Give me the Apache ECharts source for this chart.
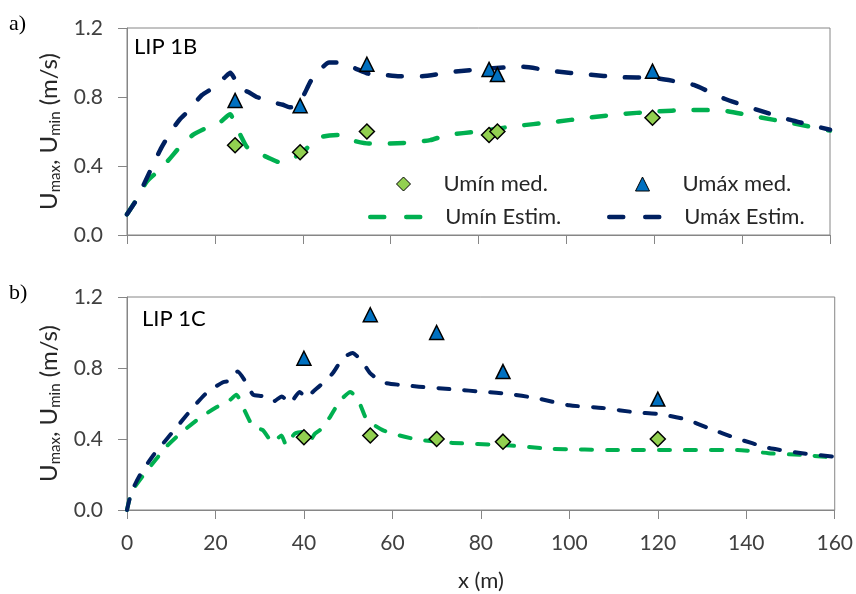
<!DOCTYPE html>
<html>
<head>
<meta charset="utf-8">
<script src="https://cdn.jsdelivr.net/npm/echarts@6/dist/echarts.min.js"></script>
<style>
html,body{margin:0;padding:0;background:#fff;}
#c{width:856px;height:594px;}
</style>
</head>
<body>
<div id="c"></div>
<script>
// ---- axis settings ----
const xMin = 0, xMax = 160, xStep = 20;
const yMin = 0, yMax = 1.2, yStep = 0.4;
const xTitle = 'x (m)';
const panelLabels = ['a)', 'b)'];
const panelNames = ['LIP 1B', 'LIP 1C'];
const seriesNames = ['Umín med.', 'Umáx med.', 'Umín Estim.', 'Umáx Estim.'];

// ---- panel a) LIP 1B ----
const aMedX   = [24.6, 39.4, 54.6, 82.4, 84.3, 119.6];
const aMinMed = [0.52, 0.48, 0.60, 0.58, 0.60, 0.68];
const aMaxMed = [0.78, 0.75, 0.99, 0.96, 0.93, 0.95];

const aMaxEstX = [0, 2.3, 4.5, 7.5, 10, 12, 14, 17, 20, 22.5, 23.5, 24.6, 25.5, 27.5, 29.5, 31, 33, 35.5, 37, 38.5, 40, 42, 44, 46, 48.5, 52, 55, 58, 62, 67, 74, 82, 90, 97, 105, 112, 120, 125, 129, 136, 143.5, 151, 160];
const aMaxEst  = [0.12, 0.21, 0.33, 0.49, 0.60, 0.67, 0.72, 0.81, 0.86, 0.92, 0.94, 0.90, 0.85, 0.83, 0.80, 0.79, 0.77, 0.755, 0.74, 0.745, 0.80, 0.90, 0.96, 1.0, 1.0, 0.965, 0.935, 0.93, 0.92, 0.92, 0.945, 0.965, 0.975, 0.95, 0.93, 0.915, 0.91, 0.89, 0.87, 0.79, 0.725, 0.667, 0.61];

const aMinEstX = [0, 2.3, 4.5, 7.5, 10, 12, 15, 18, 21, 23.5, 24.3, 26, 27.3, 29.5, 32, 35, 37, 40, 42, 44.5, 48, 51, 55, 58, 64, 69, 73, 80, 88, 97, 105, 112, 120, 128, 136, 143.5, 151, 160];
const aMinEst  = [0.12, 0.21, 0.31, 0.38, 0.45, 0.51, 0.58, 0.62, 0.65, 0.70, 0.66, 0.57, 0.51, 0.48, 0.45, 0.42, 0.435, 0.48, 0.53, 0.57, 0.58, 0.55, 0.53, 0.53, 0.535, 0.55, 0.58, 0.60, 0.63, 0.655, 0.68, 0.70, 0.715, 0.725, 0.72, 0.685, 0.65, 0.605];

// ---- panel b) LIP 1C ----
const bMedX   = [40, 55, 70, 85, 120];
const bMinMed = [0.41, 0.42, 0.40, 0.385, 0.40];
const bMaxMed = [0.855, 1.10, 1.0, 0.78, 0.625];

const bMaxEstX = [0, 1, 3, 6, 9, 12, 15, 18, 21.7, 23.6, 25, 27, 28.5, 30.8, 33, 35, 36.8, 39, 40.6, 42, 43.6, 46.5, 48.8, 51, 53.3, 55, 57.8, 61.6, 66, 73.6, 81, 86, 92.5, 100, 107.4, 115, 120.3, 126.4, 131.6, 137.7, 145, 152.6, 160];
const bMaxEst  = [0, 0.10, 0.20, 0.31, 0.40, 0.49, 0.58, 0.66, 0.72, 0.73, 0.78, 0.715, 0.65, 0.64, 0.61, 0.64, 0.60, 0.665, 0.63, 0.665, 0.70, 0.77, 0.855, 0.885, 0.83, 0.77, 0.72, 0.705, 0.695, 0.68, 0.665, 0.655, 0.63, 0.59, 0.575, 0.55, 0.54, 0.51, 0.46, 0.405, 0.35, 0.32, 0.30];

const bMinEstX = [0, 1, 3.5, 6.7, 9, 12, 16.5, 20.3, 23.3, 24.7, 26.2, 28.5, 30.7, 33, 34.9, 36, 37.9, 39.5, 41.3, 42.5, 43.6, 45.8, 48, 50.5, 52.6, 54.2, 57.8, 61.6, 66, 73.6, 85, 96, 111, 126, 138, 145, 152.6, 160];
const bMinEst  = [0, 0.10, 0.19, 0.29, 0.36, 0.43, 0.52, 0.58, 0.62, 0.65, 0.58, 0.47, 0.45, 0.38, 0.42, 0.365, 0.43, 0.44, 0.39, 0.43, 0.45, 0.52, 0.61, 0.665, 0.60, 0.51, 0.45, 0.42, 0.395, 0.378, 0.366, 0.345, 0.338, 0.338, 0.338, 0.32, 0.31, 0.295];

// ---- styling ----
const cNavy = '#002060', cGreen = '#00B050', cDiamond = '#92D050', cTri = '#0070C0';
const FONT = 'Lato';
const axisGray = '#868686';
const txt = '#404040';
const dark = '#262626';

function pairs(xs, ys) { return xs.map((x, i) => [x, ys[i]]); }

const yName = '{u|U}{s|max}{u|, U}{s|min}{u| (m/s)}';
const yNameStyle = {
  rich: {
    u: { fontFamily: FONT, fontSize: 24, color: dark, lineHeight: 28 },
    s: { fontFamily: FONT, fontSize: 15, color: dark, lineHeight: 14, verticalAlign: 'bottom' }
  }
};

function makeX(gi, showLabels) {
  return {
    type: 'value', gridIndex: gi, min: xMin, max: xMax, interval: xStep,
    axisLine: { show: true, lineStyle: { color: axisGray, width: 1 } },
    axisTick: { show: true, inside: false, length: 9, lineStyle: { color: axisGray } },
    axisLabel: { show: showLabels, margin: 23, fontFamily: FONT, fontSize: 21, color: txt },
    splitLine: { show: false },
    name: showLabels ? xTitle : '', nameLocation: 'middle', nameGap: 60,
    nameTextStyle: { fontFamily: FONT, fontSize: 22, color: dark }
  };
}
function makeY(gi) {
  return {
    type: 'value', gridIndex: gi, min: yMin, max: yMax, interval: yStep,
    axisLine: { show: true, lineStyle: { color: axisGray, width: 1 } },
    axisTick: { show: true, inside: false, length: 9, lineStyle: { color: axisGray } },
    axisLabel: { margin: 24, fontFamily: FONT, fontSize: 21, color: txt, formatter: v => v.toFixed(1) },
    splitLine: { show: false },
    name: yName, nameLocation: 'middle', nameGap: 63, nameRotate: 90,
    nameTextStyle: yNameStyle
  };
}

const lineA = { width: 4.5, type: [14, 20], cap: 'round', join: 'round' };
const lineB = { width: 4, type: [11, 15], cap: 'round', join: 'round' };

function lineSeries(name, data, color, gi, ls) {
  return {
    name, type: 'line', xAxisIndex: gi, yAxisIndex: gi, data, showSymbol: false, symbol: 'none',
    smooth: 0.2, lineStyle: Object.assign({ color }, ls), itemStyle: { color }, z: 2, silent: true
  };
}
function scatterSeries(name, data, symbol, size, fill, gi) {
  return {
    name, type: 'scatter', xAxisIndex: gi, yAxisIndex: gi, data, symbol, symbolSize: size,
    itemStyle: { color: fill, borderColor: '#000', borderWidth: 1.5, opacity: 1 }, z: 5, silent: true
  };
}

const legendText = { fontFamily: FONT, fontSize: 22, color: dark, lineHeight: 26 };
function leg(left, top, w, h, item, padLeft) {
  return {
    left, top, padding: 0, itemWidth: w, itemHeight: h, selectedMode: false,
    data: [item], textStyle: Object.assign({ padding: [0, 0, 0, padLeft] }, legendText)
  };
}
const hiddenSym = { color: 'rgba(0,0,0,0)', borderWidth: 0, borderColor: 'rgba(0,0,0,0)', opacity: 0 };

const chart = echarts.init(document.getElementById('c'), null, { renderer: 'canvas' });
chart.setOption({
  animation: false,
  backgroundColor: '#fff',
  grid: [
    { left: 127, top: 28, right: 26, height: 207, show: true, borderColor: axisGray, borderWidth: 1, containLabel: false },
    { left: 127, top: 297, right: 20, height: 213, show: true, borderColor: axisGray, borderWidth: 1, containLabel: false }
  ],
  xAxis: [makeX(0, false), makeX(1, true)],
  yAxis: [makeY(0), makeY(1)],
  legend: [
    leg(396, 171, 14, 14, { name: seriesNames[0], icon: 'diamond', itemStyle: { color: cDiamond, borderColor: '#000', borderWidth: 1 } }, 28),
    leg(635, 171, 14, 14, { name: seriesNames[1], icon: 'triangle', itemStyle: { color: cTri, borderColor: '#000', borderWidth: 1 } }, 28),
    leg(368, 204, 55, 14, { name: seriesNames[2], itemStyle: hiddenSym, lineStyle: { color: cGreen, width: 4.5, type: [14, 22], cap: 'round' } }, 15),
    leg(607, 204, 55, 14, { name: seriesNames[3], itemStyle: hiddenSym, lineStyle: { color: cNavy, width: 4.5, type: [14, 22], cap: 'round' } }, 15)
  ],
  graphic: [
    { type: 'text', left: 9, top: 13, style: { text: panelLabels[0], font: '22px "Liberation Serif"', fill: '#000' } },
    { type: 'text', left: 9, top: 282, style: { text: panelLabels[1], font: '22px "Liberation Serif"', fill: '#000' } },
    { type: 'text', left: 134, top: 36, style: { text: panelNames[0], font: '22px Lato', fill: '#000' } },
    { type: 'text', left: 142, top: 308, style: { text: panelNames[1], font: '22px Lato', fill: '#000' } }
  ],
  series: [
    lineSeries(seriesNames[2], pairs(aMinEstX, aMinEst), cGreen, 0, lineA),
    lineSeries(seriesNames[3], pairs(aMaxEstX, aMaxEst), cNavy, 0, lineA),
    scatterSeries(seriesNames[0], pairs(aMedX, aMinMed), 'diamond', 15, cDiamond, 0),
    scatterSeries(seriesNames[1], pairs(aMedX, aMaxMed), 'triangle', 14, cTri, 0),
    lineSeries(seriesNames[2], pairs(bMinEstX, bMinEst), cGreen, 1, lineB),
    lineSeries(seriesNames[3], pairs(bMaxEstX, bMaxEst), cNavy, 1, lineB),
    scatterSeries(seriesNames[0], pairs(bMedX, bMinMed), 'diamond', 15, cDiamond, 1),
    scatterSeries(seriesNames[1], pairs(bMedX, bMaxMed), 'triangle', 14, cTri, 1)
  ]
});
</script>
</body>
</html>
